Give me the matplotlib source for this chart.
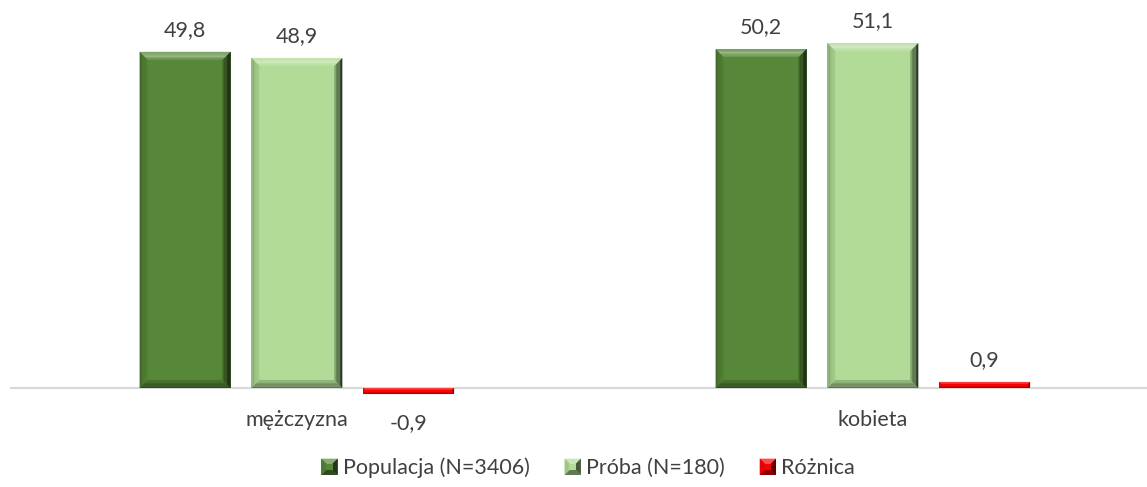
import matplotlib
matplotlib.use("Agg")
import matplotlib.pyplot as plt
import matplotlib.colors as mcolors
from matplotlib.patches import Polygon, Rectangle
from matplotlib.legend_handler import HandlerBase
import numpy as np

categories = ["mężczyzna", "kobieta"]
series_names = ["Populacja (N=3406)", "Próba (N=180)", "Różnica"]
populacja = [49.8, 50.2]
proba = [48.9, 51.1]
roznica = [-0.9, 0.9]
series_values = [populacja, proba, roznica]
colors = ["#578839", "#B1DB96", "#FF0000"]

TEXT = "#404040"
FONT = "Lato"
FS = 15.5

W, H, DPI = 1147, 487, 100
fig = plt.figure(figsize=(W / DPI, H / DPI), dpi=DPI)
ax = fig.add_axes([10 / W, 1 - 400 / H, (W - 10) / W, 390 / H])

x = np.arange(len(categories))
offset = 0.194
width = 0.158

def shade(c, f):
    r, g, b = mcolors.to_rgb(c)
    if f >= 0:
        return (r + (1 - r) * f, g + (1 - g) * f, b + (1 - b) * f)
    f = -f
    return (r * (1 - f), g * (1 - f), b * (1 - f))

containers = []
for i, (vals, col) in enumerate(zip(series_values, colors)):
    bc = ax.bar(x + (i - 1) * offset, vals, width, color=col, zorder=2, label=series_names[i])
    containers.append(bc)

ax.set_xlim(-0.498, 1.476)
ax.set_ylim(-1.78, 56)
ax.axhline(0, color="#D9D9D9", lw=1.6, zorder=1)
for s in ax.spines.values():
    s.set_visible(False)
ax.set_yticks([])
ax.set_xticks(x)
ax.set_xticklabels(categories, fontsize=FS, color=TEXT, family=FONT)
ax.tick_params(axis="x", length=0, pad=7.5)

fig.canvas.draw()

def bevel(ax, L, R, B, T, col, bmax=8, trans=None, z=3):
    h = T - B
    w = R - L
    b = min(bmax, h / 3.0, w / 3.0)
    n = 6
    for k in range(n):
        o1 = b * k / n
        o2 = b * (k + 1) / n
        t = (k + 0.5) / n
        ctop = shade(col, 0.15 + 0.3 * np.sin(np.pi * t) - 0.1 * t)
        ax.add_patch(Polygon([(L + o1, T - o1), (R - o1, T - o1), (R - o2, T - o2), (L + o2, T - o2)],
                             closed=True, facecolor=ctop, edgecolor="none", transform=trans, zorder=z))
        cbot = shade(col, -(0.5 - 0.35 * t))
        ax.add_patch(Polygon([(L + o1, B + o1), (R - o1, B + o1), (R - o2, B + o2), (L + o2, B + o2)],
                             closed=True, facecolor=cbot, edgecolor="none", transform=trans, zorder=z))
        cl = shade(col, -(0.25 - 0.2 * t))
        ax.add_patch(Polygon([(L + o1, B + o1), (L + o1, T - o1), (L + o2, T - o2), (L + o2, B + o2)],
                             closed=True, facecolor=cl, edgecolor="none", transform=trans, zorder=z))
        cr = shade(col, -(0.8 - 0.55 * t))
        ax.add_patch(Polygon([(R - o1, B + o1), (R - o1, T - o1), (R - o2, T - o2), (R - o2, B + o2)],
                             closed=True, facecolor=cr, edgecolor="none", transform=trans, zorder=z))

ident = matplotlib.transforms.IdentityTransform()
for bc, col in zip(containers, colors):
    for p in bc.patches:
        bb = p.get_window_extent()
        bevel(ax, bb.x0, bb.x1, bb.y0, bb.y1, col, trans=ident)

for bc, vals in zip(containers, series_values):
    for p, v in zip(bc.patches, vals):
        cx = p.get_x() + p.get_width() / 2
        txt = f"{v:.1f}".replace(".", ",")
        if v >= 0:
            ax.annotate(txt, (cx, v), xytext=(0, 8.5), textcoords="offset points",
                        ha="center", va="bottom", fontsize=FS, color=TEXT, family=FONT)
        else:
            ax.annotate(txt, (cx, v), xytext=(0, -13.5), textcoords="offset points",
                        ha="center", va="top", fontsize=FS, color=TEXT, family=FONT)

class BevelHandler(HandlerBase):
    def __init__(self, col):
        super().__init__()
        self.col = col
    def create_artists(self, legend, orig_handle, xdescent, ydescent, width, height, fontsize, trans):
        s = min(width, height)
        L = -xdescent + (width - s) / 2
        B = -ydescent + (height - s) / 2
        R, T = L + s, B + s
        c = self.col
        arts = [Rectangle((L, B), s, s, facecolor=c, edgecolor="none", transform=trans)]
        m = (L + s / 2, B + s / 2)
        arts.append(Polygon([(L, T), (R, T), m], facecolor=shade(c, 0.3), edgecolor="none", transform=trans))
        arts.append(Polygon([(L, B), (R, B), m], facecolor=shade(c, -0.45), edgecolor="none", transform=trans))
        arts.append(Polygon([(L, B), (L, T), m], facecolor=shade(c, -0.1), edgecolor="none", transform=trans))
        arts.append(Polygon([(R, B), (R, T), m], facecolor=shade(c, -0.6), edgecolor="none", transform=trans))
        inner = 0.3 * s
        arts.append(Rectangle((L + inner, B + inner), s - 2 * inner, s - 2 * inner, facecolor=c,
                              edgecolor="none", transform=trans))
        return arts

handles = [bc for bc in containers]
hmap = {bc: BevelHandler(col) for bc, col in zip(containers, colors)}
leg = fig.legend(handles, series_names, loc="center", bbox_to_anchor=(588 / W, 1 - 468 / H),
                 ncol=3, frameon=False, handler_map=hmap, handlelength=0.79, handleheight=0.79,
                 handletextpad=0.23, columnspacing=1.6,
                 prop={"family": FONT, "size": FS})
for t in leg.get_texts():
    t.set_color(TEXT)

fig.savefig("out.png", dpi=DPI)
